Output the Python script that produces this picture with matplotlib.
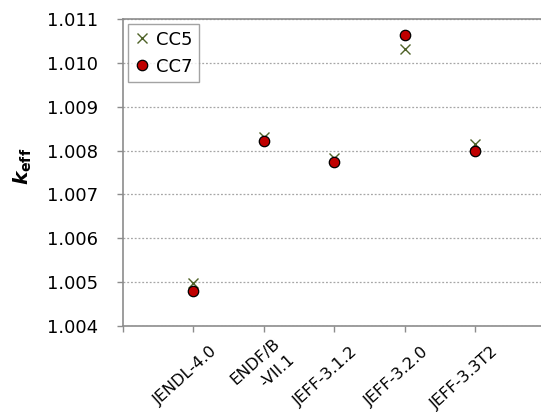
import numpy as np
import matplotlib
matplotlib.use("Agg")
import matplotlib.pyplot as plt
from matplotlib.transforms import ScaledTranslation

# keff results for each nuclear data library
libraries = ["JENDL-4.0", "ENDF/B\n-VII.1", "JEFF-3.1.2", "JEFF-3.2.0", "JEFF-3.3T2"]
keff_cc5 = [1.00497, 1.00830, 1.00782, 1.01032, 1.00816]
keff_cc7 = [1.00480, 1.00821, 1.00773, 1.01064, 1.00800]
y_ticks = [1.004, 1.005, 1.006, 1.007, 1.008, 1.009, 1.010, 1.011]

plt.rcParams["font.family"] = ["DejaVu Sans"]
plt.rcParams["mathtext.fontset"] = "custom"
plt.rcParams["mathtext.it"] = "DejaVu Sans:italic:bold"
plt.rcParams["mathtext.rm"] = "DejaVu Sans:bold"
plt.rcParams["mathtext.bf"] = "DejaVu Sans:bold"

axis_grey = "#8C8C8C"

fig = plt.figure(figsize=(5.41, 4.12), dpi=100)
ax = fig.add_axes([123 / 541, 1 - 326 / 412, 1 - 123 / 541, (326 - 19) / 412])

x = np.arange(1, len(libraries) + 1)
ax.plot(x, keff_cc5, linestyle="none", marker="x", markersize=7, markeredgewidth=1.0,
        color="#4F6228", label="CC5", zorder=3)
ax.plot(x, keff_cc7, linestyle="none", marker="o", markersize=7.5, markeredgewidth=0.9,
        markerfacecolor="#C00000", markeredgecolor="black", label="CC7", zorder=4)

ax.set_xlim(0, 5.93)
ax.set_ylim(y_ticks[0], y_ticks[-1])
ax.set_yticks(y_ticks)
ax.set_yticklabels(["%.3f" % v for v in y_ticks], fontsize=13)

# category ticks sit on the points, labels drawn rotated underneath
ax.set_xticks(np.arange(0, len(libraries) + 1))
ax.set_xticklabels([])
offset = ScaledTranslation(0.21, -0.235, fig.dpi_scale_trans)
for xi, name in zip(x, libraries):
    ax.text(xi, 0, name, transform=ax.get_xaxis_transform() + offset,
            rotation=42, rotation_mode="anchor", ha="right", va="center",
            fontsize=11.6, multialignment="right", linespacing=1.5)

ax.tick_params(axis="both", direction="out", length=4.5, width=1, color=axis_grey)
ax.tick_params(axis="y", pad=13.5)

# dotted horizontal grid
ax.grid(axis="y", linestyle=(0, (1.5, 1.5)), color="#A6A6A6", linewidth=0.9)
ax.set_axisbelow(True)

for side in ["left", "bottom", "top"]:
    ax.spines[side].set_color(axis_grey)
    ax.spines[side].set_linewidth(1.2)
ax.spines["right"].set_visible(False)

ax.set_ylabel(r"$k_{\mathrm{eff}}$", fontsize=14.5)
ax.yaxis.set_label_coords(-0.212, 0.52)

leg = ax.legend(loc="upper left", fontsize=13, frameon=True, fancybox=False,
                borderaxespad=0.3, handlelength=0.8, handletextpad=0.4,
                borderpad=0.35, labelspacing=0.5)
leg.get_frame().set_edgecolor(axis_grey)
leg.get_frame().set_linewidth(1.0)

fig.savefig("out.png", dpi=100)
